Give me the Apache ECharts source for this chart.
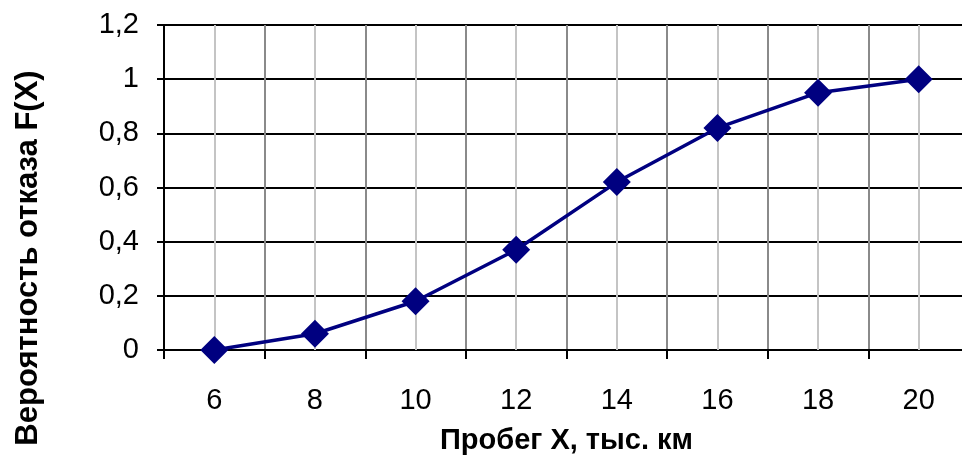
<!DOCTYPE html>
<html>
<head>
<meta charset="utf-8">
<script src="https://cdn.jsdelivr.net/npm/echarts@6/dist/echarts.min.js"></script>
<style>
  html, body { margin: 0; padding: 0; background: #fff; }
  #chart { width: 962px; height: 458px; }
</style>
</head>
<body>
<div id="chart"></div>
<script>
// Mileage (thousand km) and cumulative failure probability F(X)
const mileage = ['6', '8', '10', '12', '14', '16', '18', '20'];
const failureProb = [0, 0.06, 0.18, 0.37, 0.62, 0.82, 0.95, 1.0];
const yTicks = { min: 0, max: 1.2, step: 0.2 };

const xTitle = 'Пробег X, тыс. км';
const yTitle = 'Вероятность отказа F(X)';

const FONT = '"Liberation Sans", Arial, sans-serif';

const chart = echarts.init(document.getElementById('chart'), null, { renderer: 'canvas' });

chart.setOption({
  animation: false,
  backgroundColor: '#ffffff',
  grid: { left: 164, right: -7, top: 25, bottom: 108, containLabel: false, outerBoundsMode: 'none' },
  xAxis: {
    type: 'category',
    data: mileage,
    boundaryGap: true,
    name: xTitle,
    nameLocation: 'middle',
    nameGap: 76,
    nameTextStyle: { fontFamily: FONT, fontSize: 29, fontWeight: 'bold', color: '#000' },
    axisLine: { show: true, lineStyle: { color: '#000', width: 2 } },
    axisTick: { show: true, length: 9, lineStyle: { color: '#000', width: 2 } },
    axisLabel: { fontFamily: FONT, fontSize: 29, color: '#000', margin: 36 },
    splitLine: { show: true, lineStyle: { color: '#8a8a8a', width: 2 } }
  },
  yAxis: {
    type: 'value',
    min: yTicks.min,
    max: yTicks.max,
    interval: yTicks.step,
    axisLine: { show: true, lineStyle: { color: '#000', width: 2 } },
    axisTick: { show: true, length: 7, lineStyle: { color: '#000', width: 2 } },
    axisLabel: {
      fontFamily: FONT, fontSize: 29, color: '#000', margin: 25,
      formatter: v => String(Math.round(v * 10) / 10).replace('.', ',')
    },
    splitLine: { show: true, lineStyle: { color: '#000', width: 2 } }
  },
  graphic: [{
    type: 'text',
    rotation: Math.PI / 2,
    x: 28, y: 258,
    style: {
      text: yTitle,
      fontFamily: FONT, fontSize: 31, fontWeight: 'bold', fill: '#000',
      align: 'center', verticalAlign: 'middle'
    }
  }],
  series: [{
    type: 'line',
    data: failureProb,
    z: 10,
    symbol: 'diamond',
    symbolSize: 28,
    lineStyle: { color: '#000080', width: 3.5 },
    itemStyle: { color: '#000080' },
    markLine: {
      silent: true,
      symbol: ['none', 'none'],
      label: { show: false },
      lineStyle: { color: '#c4c4c4', width: 2, type: 'solid' },
      data: mileage.map(m => ({ xAxis: m }))
    }
  }]
});
</script>
</body>
</html>
